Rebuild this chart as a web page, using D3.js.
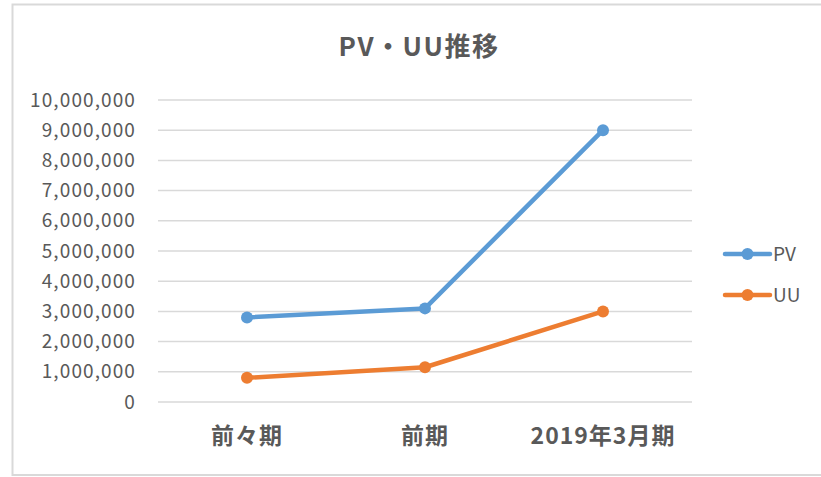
<!DOCTYPE html>
<html>
<head>
<meta charset="utf-8">
<script src="https://cdn.jsdelivr.net/npm/d3@7"></script>
<style>
  body { margin: 0; background: #fff; }
  text { font-family: "Noto Sans CJK JP", "Noto Sans", sans-serif; fill: #595959; }
</style>
</head>
<body>
<div class="root"></div>
<script>
// data
var categories = ["前々期", "前期", "2019年3月期"];
var pvValues = [2800000, 3100000, 9000000];
var uuValues = [800000, 1150000, 3000000];
var yTicks = [0, 1000000, 2000000, 3000000, 4000000, 5000000, 6000000, 7000000, 8000000, 9000000, 10000000];

var series = [
  {name: "PV", values: pvValues, color: "#5b9bd5"},
  {name: "UU", values: uuValues, color: "#ed7d31"}
];

var width = 821, height = 477;

var svg = d3.select('.root')
            .append('svg')
            .attr("width", width)
            .attr("height", height);

// frame
svg.append('rect')
   .attr("x", 12.5).attr("y", 4.5)
   .attr("width", 820).attr("height", 470.5)
   .attr("fill", "#fff")
   .attr("stroke", "#d9d9d9")
   .attr("stroke-width", 2);

svg.append('text')
   .attr("x", 419).attr("y", 56)
   .attr("text-anchor", "middle")
   .style("font-size", "26px")
   .style("font-weight", "bold")
   .style("letter-spacing", "1.5px")
   .text("PV・UU推移");

var x = d3.scaleBand().domain(categories).range([158, 692]);
var y = d3.scaleLinear().domain([0, 10000000]).range([402, 100]);

var fmt = d3.format(",");

// gridlines
svg.append('g')
   .selectAll('line')
   .data(yTicks)
   .enter()
   .append('line')
   .attr("x1", 158).attr("x2", 692)
   .attr("y1", function (d) { return y(d); })
   .attr("y2", function (d) { return y(d); })
   .attr("stroke", "#d9d9d9")
   .attr("stroke-width", 1.5);

// y axis labels
var yAxis = d3.axisLeft(y).tickValues(yTicks).tickFormat(fmt).tickSize(0).tickPadding(22);
var yg = svg.append('g').attr("transform", "translate(158,0)").call(yAxis);
yg.select('.domain').remove();
yg.selectAll('text')
  .style("font-size", "19px")
  .style("letter-spacing", "1.1px")
  .attr("fill", "#595959");

// x axis labels
var xAxis = d3.axisBottom(x).tickSize(0).tickPadding(26);
var xg = svg.append('g').attr("transform", "translate(0,402)").call(xAxis);
xg.select('.domain').remove();
xg.selectAll('text')
  .style("font-size", "23px")
  .style("font-weight", "bold")
  .style("letter-spacing", "1px")
  .attr("fill", "#595959");

var line = d3.line()
             .x(function (d, i) { return x(categories[i]) + x.bandwidth() / 2; })
             .y(function (d) { return y(d); });

series.forEach(function (s) {
  svg.append('path')
     .datum(s.values)
     .attr("d", line)
     .attr("fill", "none")
     .attr("stroke", s.color)
     .attr("stroke-width", 4.5)
     .attr("stroke-linejoin", "round");

  svg.append('g')
     .selectAll('circle')
     .data(s.values)
     .enter()
     .append('circle')
     .attr("cx", function (d, i) { return x(categories[i]) + x.bandwidth() / 2; })
     .attr("cy", function (d) { return y(d); })
     .attr("r", 6)
     .attr("fill", s.color);
});

// legend
var legend = svg.append('g')
                .selectAll('g')
                .data(series)
                .enter()
                .append('g')
                .attr("transform", function (d, i) { return "translate(725," + (254 + i * 41) + ")"; });

legend.append('line')
      .attr("x1", 0).attr("x2", 45)
      .attr("stroke", function (d) { return d.color; })
      .attr("stroke-width", 4.5)
      .attr("stroke-linecap", "round");

legend.append('circle')
      .attr("cx", 22.5).attr("r", 6)
      .attr("fill", function (d) { return d.color; });

legend.append('text')
      .attr("x", 48).attr("y", 7)
      .style("font-size", "19px")
      .text(function (d) { return d.name; });
</script>
</body>
</html>
